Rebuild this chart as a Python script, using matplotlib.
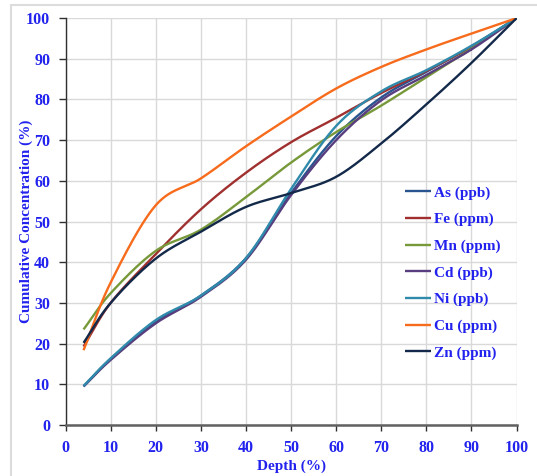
import numpy as np
import matplotlib
matplotlib.use('Agg')
import matplotlib.pyplot as plt

## Data (cumulative %, vs depth %)
depth = [4, 10, 20, 30, 40, 50, 60, 70, 80, 90, 100]
As_ppb = [9.5, 16.2, 25.3, 31.8, 41.0, 57.0, 71.0, 80.5, 86.8, 93.0, 100]
Fe_ppm = [19.3, 30.0, 42.0, 53.0, 62.0, 69.5, 75.5, 81.6, 87.0, 93.0, 100]
Mn_ppm = [23.5, 32.4, 42.8, 48.0, 56.0, 64.5, 72.0, 78.5, 85.5, 92.5, 100]
Cd_ppb = [9.5, 16.0, 25.0, 31.5, 40.6, 56.5, 70.0, 79.8, 86.0, 92.3, 100]
Ni_ppb = [9.6, 16.4, 25.8, 31.8, 41.0, 58.0, 73.5, 82.0, 87.2, 93.2, 100]
Cu_ppm = [18.4, 35.0, 54.0, 60.6, 68.5, 75.8, 82.7, 88.0, 92.3, 96.2, 100]
Zn_ppm = [20.2, 30.0, 40.9, 47.5, 53.6, 57.0, 61.0, 69.2, 78.8, 89.0, 100]

labels = ['As (ppb)', 'Fe (ppm)', 'Mn (ppm)', 'Cd (ppb)', 'Ni (ppb)', 'Cu (ppm)', 'Zn (ppm)']
series = [As_ppb, Fe_ppm, Mn_ppm, Cd_ppb, Ni_ppb, Cu_ppm, Zn_ppm]
colors = ['#2a5490', '#a0302f', '#77993a', '#583e7e', '#2f8aab', '#f76b1c', '#13294a']

txt_blue = '#2222ee'
font = 'Liberation Serif'


def smooth(x, y, n=30):
    # Excel-style smoothed line: Catmull-Rom segments through the points
    x = np.asarray(x, float)
    y = np.asarray(y, float)
    px = np.concatenate([[2*x[0]-x[1]], x, [2*x[-1]-x[-2]]])
    py = np.concatenate([[2*y[0]-y[1]], y, [2*y[-1]-y[-2]]])
    t = np.linspace(0, 1, n)
    xs, ys = [], []
    for i in range(1, len(px)-2):
        for p, out in ((px, xs), (py, ys)):
            p0, p1, p2, p3 = p[i-1], p[i], p[i+1], p[i+2]
            out.append(0.5*((2*p1) + (-p0+p2)*t + (2*p0-5*p1+4*p2-p3)*t**2
                            + (-p0+3*p1-3*p2+p3)*t**3))
    return np.concatenate(xs), np.concatenate(ys)


fig = plt.figure(figsize=(5.37, 4.76), dpi=100)
# light frame around the chart area
fig.patches.append(plt.Rectangle((11/537, -0.1), 1.0, 1.09, transform=fig.transFigure,
                                 fill=False, edgecolor='#dcdcdc', lw=1.5))
ax = fig.add_axes([0.122, 0.107, 0.840, 0.855])

for vals, lab, col in zip(series, labels, colors):
    sx, sy = smooth(depth, vals)
    ax.plot(sx, sy, color=col, lw=1.7, label=lab, solid_capstyle='butt')

ax.set_xlim(0, 100)
ax.set_ylim(0, 100)
ax.set_xticks(np.arange(0, 101, 10))
ax.set_yticks(np.arange(0, 101, 10))
ax.grid(True, color='#d9d9d9', lw=1.0)
ax.set_axisbelow(True)
for s in ['top', 'right']:
    ax.spines[s].set_visible(False)
ax.spines['left'].set_color('#303030')
ax.spines['left'].set_linewidth(1.0)
ax.spines['bottom'].set_color('#606060')
ax.spines['bottom'].set_linewidth(1.8)
ax.tick_params(axis='x', direction='out', length=4, color='#303030', width=1.0, pad=7)
ax.tick_params(axis='y', direction='out', length=5, color='#303030', width=1.0, pad=6)
for lab in ax.get_xticklabels() + ax.get_yticklabels():
    lab.set_fontfamily(font)
    lab.set_fontweight('bold')
    lab.set_fontsize(11.5)
    lab.set_color(txt_blue)

ax.set_xlabel('Depth (%)', fontfamily=font, fontweight='bold', fontsize=11,
              color=txt_blue)
ax.xaxis.set_label_coords(0.5, -0.084)
ax.set_ylabel('Cumulative Concentration (%)', fontfamily=font, fontweight='bold',
              fontsize=11, color=txt_blue)
ax.yaxis.set_label_coords(-0.073, 0.5)

leg = ax.legend(loc='upper left', bbox_to_anchor=(0.752, 0.588), frameon=False,
                prop={'family': font, 'weight': 'bold', 'size': 11},
                handlelength=1.7, handletextpad=0.2, labelspacing=0.84,
                borderpad=0, borderaxespad=0)
for t in leg.get_texts():
    t.set_color(txt_blue)

fig.savefig('out.png', dpi=100)
